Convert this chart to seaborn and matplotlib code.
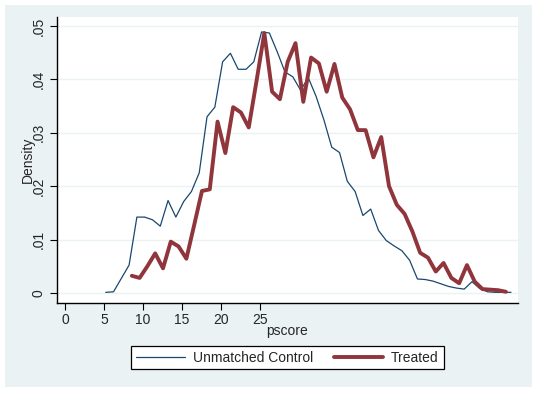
import matplotlib
matplotlib.use("Agg")
import matplotlib.pyplot as plt
import numpy as np
import pandas as pd
import seaborn as sns
from matplotlib.patches import Rectangle
from matplotlib.lines import Line2D

# control series, bins from 5 to 57 (points sit a bit right of the integer)
control_x = np.arange(5, 58) + 0.2
control_y = [0.0001, 0.0002, 0.0027, 0.0052, 0.0142, 0.0142, 0.0137, 0.0125,
             0.0173, 0.0142, 0.0171, 0.0190, 0.0225, 0.0330, 0.0348, 0.0433,
             0.0449, 0.0419, 0.0419, 0.0433, 0.0489, 0.0487, 0.0452, 0.0414,
             0.0405, 0.0380, 0.0403, 0.0368, 0.0324, 0.0273, 0.0263, 0.0209,
             0.0190, 0.0145, 0.0157, 0.0117, 0.0098, 0.0088, 0.0079, 0.0061,
             0.0026, 0.0025, 0.0022, 0.0017, 0.0012, 0.0009, 0.0007, 0.0021,
             0.0008, 0.0002, 0.0001, 0.0001, 0.0001]

# treated series, bins from 8 to 56
treated_x = np.arange(8, 57) + 0.55
treated_y = [0.0032, 0.0028, 0.0050, 0.0074, 0.0046, 0.0096, 0.0087, 0.0064,
             0.0127, 0.0191, 0.0194, 0.0321, 0.0262, 0.0348, 0.0338, 0.0310,
             0.0397, 0.0487, 0.0377, 0.0363, 0.0433, 0.0468, 0.0358, 0.0441,
             0.0430, 0.0377, 0.0429, 0.0366, 0.0344, 0.0305, 0.0305, 0.0254,
             0.0292, 0.0200, 0.0165, 0.0148, 0.0115, 0.0075, 0.0066, 0.0040,
             0.0056, 0.0028, 0.0018, 0.0052, 0.0021, 0.0007, 0.0006, 0.0005,
             0.0002]

x_ticks = [0, 5, 10, 15, 20, 25]
y_ticks = [0, 0.01, 0.02, 0.03, 0.04, 0.05]
y_labels = ["0", ".01", ".02", ".03", ".04", ".05"]

navy = "#1a476f"
maroon = "#90353b"
bg = "#eaf2f3"

sns.set_style("white")
plt.rcParams["font.family"] = ["Liberation Sans", "DejaVu Sans"]

W, H = 537, 393
fig = plt.figure(figsize=(W / 100, H / 100), dpi=100, facecolor="white")
fig.patches.append(Rectangle((5 / W, 1 - 387 / H), (532 - 5) / W, (387 - 5) / H,
                             transform=fig.transFigure, facecolor=bg,
                             edgecolor="none", zorder=-5))

ax = fig.add_axes([57 / W, 1 - 303 / H, (518 - 57) / W, (303 - 17) / H])
ax.set_facecolor("white")

df_c = pd.DataFrame({"pscore": control_x, "density": control_y})
df_t = pd.DataFrame({"pscore": treated_x, "density": treated_y})
sns.lineplot(data=df_c, x="pscore", y="density", color=navy, linewidth=0.9, ax=ax)
sns.lineplot(data=df_t, x="pscore", y="density", color=maroon, linewidth=2.8, ax=ax)

ax.set_xlim(-1.05, 58.1)
ax.set_ylim(-0.0019, 0.0517)
ax.set_xticks(x_ticks)
ax.set_yticks(y_ticks)
ax.set_yticklabels(y_labels, rotation=90, va="center")
ax.tick_params(axis="both", direction="out", length=5, width=0.8, color="black",
               labelsize=10, bottom=True, left=True)
ax.tick_params(axis="x", pad=2)
ax.tick_params(axis="y", pad=3)
ax.grid(axis="y", color=bg, linewidth=1)
ax.set_axisbelow(True)
for s in ["top", "right"]:
    ax.spines[s].set_visible(False)
for s in ["left", "bottom"]:
    ax.spines[s].set_color("black")
    ax.spines[s].set_linewidth(1)

ax.set_xlabel("pscore", fontsize=10, labelpad=-2)
ax.set_ylabel("Density", fontsize=10, labelpad=-2)

handles = [Line2D([], [], color=navy, linewidth=0.9),
           Line2D([], [], color=maroon, linewidth=2.8)]
leg = fig.legend(handles, ["Unmatched Control", "Treated"], ncol=2,
                 loc="center", bbox_to_anchor=(287.5 / W, 1 - 357.5 / H),
                 fontsize=10, frameon=True, fancybox=False, edgecolor="black",
                 facecolor="white", framealpha=1, handlelength=3.5,
                 handletextpad=0.6, columnspacing=1.5, borderpad=0.35)
leg.get_frame().set_linewidth(0.9)

fig.savefig("out.png", dpi=100, facecolor="white")
